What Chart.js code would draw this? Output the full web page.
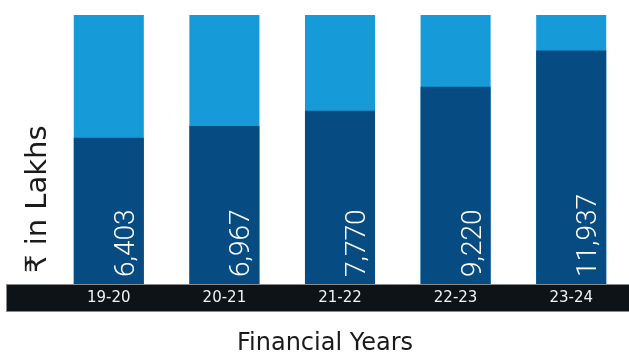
<!DOCTYPE html>
<html>
<head>
<meta charset="utf-8">
<script src="https://cdn.jsdelivr.net/npm/chart.js@4/dist/chart.umd.min.js"></script>
<style>
  html, body { margin: 0; padding: 0; background: #fff; }
  #wrap { width: 629px; height: 354px; }
</style>
</head>
<body>
<div id="wrap"><canvas id="fundChart"></canvas></div>
<script>
// Data
const years = ['19-20', '20-21', '21-22', '22-23', '23-24'];
const amounts = [6403, 6967, 7770, 9220, 11937];   // ₹ in Lakhs
const ceiling = [15400, 15400, 15400, 15400, 15400]; // light blue backdrop up to the top
const AXIS_MIN = 2250;
const AXIS_MAX = 15400;

// Black strip behind the category labels
const bandPlugin = {
    id: 'band',
    beforeDraw(chart) {
        const c = chart.ctx;
        const b = chart.chartArea.bottom;
        c.save();
        c.fillStyle = '#0d1317';
        c.fillRect(6, b, chart.width - 6, 28);
        c.strokeStyle = '#8a8a8a';
        c.lineWidth = 1;
        c.strokeRect(6.5, b + 0.5, chart.width, 27);
        c.restore();
    }
};

// Rotated value labels inside the dark bars + axis titles
const labelPlugin = {
    id: 'labels',
    afterDatasetsDraw(chart) {
        const c = chart.ctx;
        const meta = chart.getDatasetMeta(0);
        c.save();
        c.fillStyle = '#ffffff';
        c.font = '300 28px Roboto, "Noto Sans", sans-serif';
        c.textAlign = 'left';
        c.textBaseline = 'middle';
        meta.data.forEach((bar, i) => {
            c.save();
            c.translate(bar.x + 18, bar.base - 7);
            c.rotate(-Math.PI / 2);
            c.fillText(amounts[i].toLocaleString('en-US'), 0, 0);
            c.restore();
        });
        c.restore();
    },
    afterDraw(chart) {
        const c = chart.ctx;
        c.save();
        c.fillStyle = '#1a1a1a';
        // y title
        c.font = '29px "DejaVu Sans", "Noto Sans", sans-serif';
        c.textAlign = 'left';
        c.textBaseline = 'middle';
        c.translate(38, 273);
        c.rotate(-Math.PI / 2);
        c.fillText('₹ in Lakhs', 0, 0);
        c.restore();
        // x title
        c.save();
        c.fillStyle = '#1a1a1a';
        c.font = '24px "DejaVu Sans", "Noto Sans", sans-serif';
        c.textAlign = 'center';
        c.textBaseline = 'alphabetic';
        c.fillText('Financial Years', 325, 350);
        c.restore();
    }
};

const ctx = document.getElementById('fundChart').getContext('2d');
const fundChart = new Chart(ctx, {
    type: 'bar',
    data: {
        labels: years,
        datasets: [
            {
                label: 'Amount',
                data: amounts,
                backgroundColor: '#064b82',
                grouped: false,
                categoryPercentage: 1,
                barPercentage: 0.606
            },
            {
                label: 'Backdrop',
                data: ceiling,
                backgroundColor: '#179bd8',
                grouped: false,
                categoryPercentage: 1,
                barPercentage: 0.606
            }
        ]
    },
    options: {
        responsive: true,
        maintainAspectRatio: false,
        animation: false,
        layout: { padding: { left: 51, top: 15, right: 0, bottom: 0 } },
        scales: {
            y: {
                type: 'logarithmic',
                display: false,
                min: AXIS_MIN,
                max: AXIS_MAX
            },
            x: {
                grid: { display: false, drawTicks: false },
                border: { display: false },
                ticks: {
                    color: '#f2f2f2',
                    padding: 5,
                    font: { family: '"DejaVu Sans", "Noto Sans", sans-serif', size: 15 }
                },
                afterFit(scale) { scale.height = 70; }
            }
        },
        plugins: {
            legend: { display: false },
            tooltip: { enabled: false }
        }
    },
    plugins: [bandPlugin, labelPlugin]
});
</script>
</body>
</html>
